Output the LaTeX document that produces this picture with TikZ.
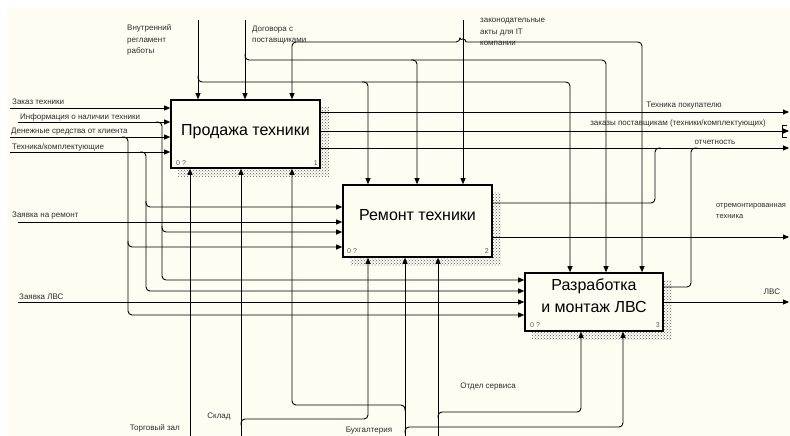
\documentclass[tikz,border=0pt]{standalone}
\usepackage{fontspec}
\setmainfont{Liberation Sans}
\usetikzlibrary{arrows.meta,patterns,backgrounds}
\definecolor{paper}{RGB}{255,252,242}
\definecolor{ink}{RGB}{45,45,45}
\begin{document}
\begin{tikzpicture}[x=1pt,y=-1pt,
  func/.style={draw, line width=1.6pt, fill=paper, inner sep=0pt},
  ttl/.style={font=\fontsize{16}{22}\selectfont, inner sep=0pt, align=center},
  tag/.style={font=\fontsize{8}{11.5}\selectfont, text=ink, inner sep=0pt, align=left},
  num/.style={font=\fontsize{7}{8}\selectfont, text=black!65, inner sep=0pt},
  hatch/.style={pattern=crosshatch dots, pattern color=black!65},
  wire/.style={line width=0.9pt, rounded corners=4pt},
  arr/.style={wire, -{Triangle[length=6pt,width=5pt]}},
  both/.style={wire, {Triangle[length=6pt,width=5pt]}-{Triangle[length=6pt,width=5pt]}}]
\useasboundingbox (0,0) rectangle (790,436);
\node[func, minimum width=149pt, minimum height=68pt] (sale) at (245.5,134) {};
\node[func, minimum width=149pt, minimum height=72pt] (repair) at (417.5,221) {};
\node[func, minimum width=138pt, minimum height=58pt] (lan) at (594,302) {};
\node[ttl] (sale-t) at ([yshift=2pt]sale.center) {Продажа техники};
\node[ttl] (repair-t) at ([yshift=6pt]repair.center) {Ремонт техники};
\node[ttl] (lan-t) at ([yshift=6pt]lan.center) {Разработка\\и монтаж ЛВС};
\node[num, anchor=west] (sale-a) at (176,163) {0 ?};
\node[num, anchor=east] (sale-b) at (318,163) {1};
\node[num, anchor=west] (repair-a) at (347,251) {0 ?};
\node[num, anchor=east] (repair-b) at (489,251) {2};
\node[num, anchor=west] (lan-a) at (530,325) {0 ?};
\node[num, anchor=east] (lan-b) at (660,325) {3};
\begin{scope}[on background layer]
\fill[white] (0,0) rectangle (790,436);
\fill[paper] (7,8) rectangle (790,436);
\foreach \b in {sale,repair,lan}
  \fill[hatch] ([shift={(8,8)}]\b.north west) rectangle ([shift={(8,8)}]\b.south east);
\end{scope}
\coordinate (order) at (10,108);
\coordinate (info) at (18,122);
\coordinate (money) at (10,137);
\coordinate (parts) at (10,152);
\coordinate (repreq) at (18,222);
\coordinate (lanreq) at (18,302);
\coordinate (rules) at (198,20);
\coordinate (deals) at (245,20);
\coordinate (laws) at (463,20);
\coordinate (hall) at (190,436);
\coordinate (store) at (241,436);
\coordinate (books) at (405,436);
\coordinate (service) at (438,436);
\coordinate (buyer) at (789,112);
\coordinate (supply) at (789,131);
\coordinate (report) at (789,148);
\coordinate (fixed) at (789,237);
\coordinate (net) at (789,302);
\draw[arr] (order) -- (order -| sale.west);
\draw[arr] (info) -- (info -| sale.west);
\draw[arr] (money) -- (money -| sale.west);
\draw[arr] (parts) -- (parts -| sale.west);
\draw[arr] (156,122) -| (162,280) -- (162,280 -| lan.west);
\draw[arr] (162,226) |- (162,232 -| repair.west);
\draw[arr] (122,137) -| (128,315) -- (128,315 -| lan.west);
\draw[arr] (128,241) |- (128,247 -| repair.west);
\draw[arr] (140,152) -| (146,291) -- (146,291 -| lan.west);
\draw[arr] (146,201) |- (146,207 -| repair.west);
\draw[arr] (repreq) -- (repreq -| repair.west);
\draw[arr] (lanreq) -- (lanreq -| lan.west);
\draw[arr] (rules) -- (rules |- sale.north);
\draw[arr] (198,76) |- (570,82) -- (570,0 |- lan.north);
\draw[arr] (362,82) -| (368,0 |- repair.north);
\draw[arr] (deals) -- (deals |- sale.north);
\draw[arr] (245,54) |- (606,60) -- (606,0 |- lan.north);
\draw[arr] (411,60) -| (417,0 |- repair.north);
\draw[both] (292,0 |- sale.north) |- (460,42) {[rounded corners=0pt] arc[start angle=180,end angle=360,radius=3]} -| (642,0 |- lan.north);
\draw[arr] (laws) -- (laws |- repair.north);
\draw[arr] (buyer -| sale.east) -- (buyer);
\draw[arr] (supply -| sale.east) -- (supply);
\draw[arr] (report -| sale.east) -- (report);
\draw[wire, rounded corners=0pt] ([shift={(-2,-6)}]supply) -- ([shift={(-7,-6)}]supply) -- ([shift={(-7,6)}]supply) -- ([shift={(-2,6)}]supply);
\draw[wire] (repair.east |- 0,203) -| (655,148) -- (661,148);
\draw[arr] (fixed -| repair.east) -- (fixed);
\draw[wire] (lan.east |- 0,287) -| (691,148) -- (697,148);
\draw[arr] (net -| lan.east) -- (net);
\draw[arr] (hall) -- (hall |- sale.south);
\draw[arr] (store) -- (store |- sale.south);
\draw[arr] (241,425) |- (368,419) -- (368,0 |- repair.south);
\draw[arr] (books) -- (books |- repair.south);
\draw[arr] (405,411) |- (292,405) -- (292,0 |- sale.south);
\draw[arr] (405,433) |- (623,427) -- (623,0 |- lan.south);
\draw[arr] (service) -- (service |- repair.south);
\draw[arr] (438,418) |- (581,412) -- (581,0 |- lan.south);
\node[tag, anchor=west] (order-l) at (12,102) {Заказ техники};
\node[tag, anchor=west] (info-l) at (20,117) {Информация о наличии техники};
\node[tag, anchor=west] (money-l) at (11,132) {Денежные средства от клиента};
\node[tag, anchor=west] (parts-l) at (12,147) {Техника/комплектующие};
\node[tag, anchor=west] (repreq-l) at (12,216) {Заявка на ремонт};
\node[tag, anchor=west] (lanreq-l) at (19,297) {Заявка ЛВС};
\node[tag, anchor=west] (rules-l) at (127,40) {Внутренний\\регламент\\работы};
\node[tag, anchor=west] (deals-l) at (252,35) {Договора с\\поставщиками};
\node[tag, anchor=west] (laws-l) at (480,32) {законодательные\\акты для IT\\компании};
\node[tag] (buyer-l) at (684,106) {Техника покупателю};
\node[tag] (supply-l) at (678,123) {заказы поставщикам (техники/комплектующих)};
\node[tag] (report-l) at (715,142) {отчетность};
\node[tag, anchor=west, font=\fontsize{7.5}{11.5}\selectfont] (fixed-l) at (716,211) {отремонтированная\\техника};
\node[tag] (net-l) at (772,292) {ЛВС};
\node[tag, anchor=east] (hall-l) at (180,428) {Торговый зал};
\node[tag] (store-l) at (219,417) {Склад};
\node[tag] (books-l) at (369,431) {Бухгалтерия};
\node[tag] (service-l) at (488,387) {Отдел сервиса};
\end{tikzpicture}
\end{document}
